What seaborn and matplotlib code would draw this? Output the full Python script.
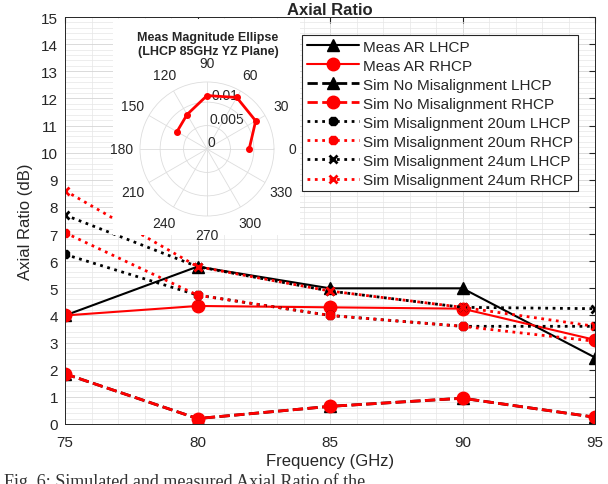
import numpy as np
import matplotlib
matplotlib.use("Agg")
import matplotlib.pyplot as plt
from matplotlib.ticker import MultipleLocator
import seaborn as sns

freq = [75, 80, 85, 90, 95]
meas_lhcp = [4.0, 5.8, 5.0, 5.0, 2.45]
meas_rhcp = [4.0, 4.35, 4.3, 4.25, 3.1]
nomis_lhcp = [1.85, 0.2, 0.65, 0.95, 0.25]
nomis_rhcp = [1.85, 0.2, 0.65, 0.95, 0.25]
mis20_lhcp = [6.25, 4.75, 4.0, 3.6, 3.6]
mis20_rhcp = [7.05, 4.75, 4.0, 3.6, 3.05]
mis24_lhcp = [7.7, 5.8, 4.9, 4.3, 4.25]
mis24_rhcp = [8.6, 5.8, 4.9, 4.3, 3.6]

# polar inset (measured ellipse, LHCP 85 GHz)
ell_angle = [0, 30, 60, 90, 120, 150]
ell_mag = [0.0090, 0.0120, 0.0127, 0.0114, 0.0085, 0.0074]
theta_ticks = list(range(0, 360, 30))

sns.set_style("white")
plt.rcParams["font.family"] = ["Liberation Sans", "DejaVu Sans"]

fig = plt.figure(figsize=(6.08, 4.85), dpi=100)
ax = fig.add_axes([65 / 608, 1 - 425 / 485, 530 / 608, 407 / 485])

dark = "#262626"
series = [
    (meas_lhcp, "Meas AR LHCP", "k", "-", "^", 9, 1.5),
    (meas_rhcp, "Meas AR RHCP", "r", "-", "o", 9, 1.5),
    (nomis_lhcp, "Sim No Misalignment LHCP", "k", "--", "^", 9, 2),
    (nomis_rhcp, "Sim No Misalignment RHCP", "r", "--", "o", 9, 2),
    (mis20_lhcp, "Sim Misalignment 20um LHCP", "k", ":", "8", 6, 2),
    (mis20_rhcp, "Sim Misalignment 20um RHCP", "r", ":", "8", 6, 2),
    (mis24_lhcp, "Sim Misalignment 24um LHCP", "k", ":", "x", 6, 2),
    (mis24_rhcp, "Sim Misalignment 24um RHCP", "r", ":", "x", 6, 2),
]
for vals, lab, col, ls, mk, ms, lw in series:
    sns.lineplot(x=freq, y=vals, color=col, linestyle=ls, marker=mk,
                 markersize=ms, linewidth=lw, markeredgewidth=2 if mk == "x" else 1,
                 markeredgecolor=col, label=lab, ax=ax)

ax.set_xlim(75, 95)
ax.set_ylim(0, 15)
ax.xaxis.set_major_locator(MultipleLocator(5))
ax.xaxis.set_minor_locator(MultipleLocator(1))
ax.yaxis.set_major_locator(MultipleLocator(1))
ax.yaxis.set_minor_locator(MultipleLocator(0.2))
ax.grid(which="major", color="#d4d4d4", linewidth=0.6)
ax.grid(which="minor", color="#e6e6e6", linewidth=0.5)
ax.set_axisbelow(True)
ax.tick_params(which="both", direction="in", top=True, right=True, colors=dark,
               labelsize=11)
ax.tick_params(which="minor", length=0)
ax.tick_params(which="major", length=4)
ax.tick_params(axis="x", pad=8)
ax.tick_params(axis="y", pad=5)
for s in ax.spines.values():
    s.set_color(dark)
    s.set_linewidth(0.7)
ax.set_xlabel("Frequency (GHz)", fontsize=12, color=dark, labelpad=3)
ax.set_ylabel("Axial Ratio (dB)", fontsize=12, color=dark, labelpad=6)
ax.set_title("Axial Ratio", fontsize=12, fontweight="bold", pad=2)

leg = ax.legend(loc="upper right", bbox_to_anchor=(578 / 608, 1 - 36 / 485),
                bbox_transform=fig.transFigure, borderaxespad=0, fontsize=11,
                handlelength=3.4, handletextpad=0.3, labelspacing=0.33,
                borderpad=0.3, fancybox=False, framealpha=1)
leg.get_frame().set_edgecolor(dark)
leg.get_frame().set_linewidth(0.8)

# white background box behind the inset
bg = fig.add_axes([113 / 608, 1 - 236 / 485, 187 / 608, 216 / 485])
bg.set_facecolor("white")
bg.set_xticks([])
bg.set_yticks([])
for s in bg.spines.values():
    s.set_visible(False)

pax = fig.add_axes([(207 - 67) / 608, 1 - (150 + 67) / 485, 134 / 608, 134 / 485],
                   projection="polar")
pax.set_facecolor("none")
pax.plot(np.deg2rad(ell_angle), ell_mag, color="r", linewidth=2, marker="o",
         markersize=4)
pax.set_rlim(0, 0.0143)
pax.set_rticks([0, 0.005, 0.01])
pax.set_yticklabels(["0", "0.005", "0.01"], fontsize=10, color=dark)
pax.set_rlabel_position(85)
pax.set_thetagrids(theta_ticks, labels=[str(t) for t in theta_ticks],
                   fontsize=10, color=dark)
pax.tick_params(axis="x", pad=3)
pax.grid(color="#dddddd", linewidth=0.6)
pax.spines["polar"].set_color("#dddddd")
pax.spines["polar"].set_linewidth(0.6)

fig.text(208 / 608, 1 - 45 / 485, "Meas Magnitude Ellipse\n(LHCP 85GHz YZ Plane)",
         ha="center", va="center", fontsize=9, fontweight="bold", linespacing=1.2)

fig.text(4 / 608, 1 - 473 / 485, "Fig. 6: Simulated and measured Axial Ratio of the",
         ha="left", va="top", fontsize=13, family=["Liberation Serif"], color="#333333")

fig.savefig("out.png", dpi=100)
